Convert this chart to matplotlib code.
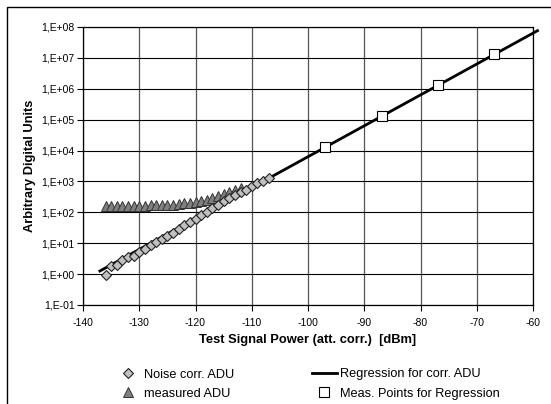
import numpy as np
import matplotlib.pyplot as plt
from matplotlib.patches import Rectangle

# signal power [dBm] for the low-level sweep
power_sweep = [-136, -135, -134, -133, -132, -131, -130, -129, -128, -127,
               -126, -125, -124, -123, -122, -121, -120, -119, -118, -117,
               -116, -115, -114, -113, -112, -111, -110, -109, -108, -107]
noise_corr_adu = [0.95, 1.9, 1.95, 2.8, 3.6, 4.0, 5.2, 6.7, 8.8, 11.3,
                  13.8, 17, 21, 28, 38, 49, 62, 80, 102, 135,
                  173, 225, 290, 360, 440, 540, 690, 890, 1050, 1260]

power_measured = [-136, -135, -134, -133, -132, -131, -130, -129, -128, -127,
                  -126, -125, -124, -123, -122, -121, -120, -119, -118, -117,
                  -116, -115, -114, -113, -112]
measured_adu = [159, 160, 160, 161, 162, 162, 163, 165, 167, 169,
                172, 175, 179, 186, 196, 207, 220, 238, 260, 293,
                331, 383, 448, 518, 598]

# regression line end points
power_regr = [-137, -59.2]
regr_adu = [1.26, 7.6e7]

# measurement points used for the regression
power_points = [-96.9, -86.9, -76.9, -66.9]
points_adu = [1.3e4, 1.3e5, 1.3e6, 1.3e7]

x_ticks = [-140, -130, -120, -110, -100, -90, -80, -70, -60]
y_ticks = [1e-1, 1e0, 1e1, 1e2, 1e3, 1e4, 1e5, 1e6, 1e7, 1e8]
y_labels = ["1,E-01", "1,E+00", "1,E+01", "1,E+02", "1,E+03",
            "1,E+04", "1,E+05", "1,E+06", "1,E+07", "1,E+08"]

plt.rcParams['font.family'] = ['Liberation Sans', 'DejaVu Sans']

W, H = 551, 404
fig = plt.figure(figsize=(W / 100, H / 100), dpi=100)
ax = fig.add_axes([83 / W, 1 - 305 / H, 450 / W, 278 / H])

# outer chart border (runs off the right / bottom of the picture)
fig.add_artist(Rectangle((7 / W, -0.1), 1.2, 1 - 7 / H + 0.1, transform=fig.transFigure,
                         fill=False, edgecolor='black', linewidth=1.0))

ax.set_yscale('log')
ax.set_xlim(-140, -60)
ax.set_ylim(1e-1, 1e8)

ax.plot(power_regr, regr_adu, color='black', linewidth=2.0, clip_on=False, zorder=3,
        label='Regression for corr. ADU')
ax.plot(power_measured, measured_adu, linestyle='none', marker='^', markersize=6.5,
        markerfacecolor='#808080', markeredgecolor='#333333', markeredgewidth=0.7,
        zorder=4, label='measured ADU')
ax.plot(power_sweep, noise_corr_adu, linestyle='none', marker='D', markersize=5.2,
        markerfacecolor='#c0c0c0', markeredgecolor='#222222', markeredgewidth=0.8,
        zorder=5, label='Noise corr. ADU')
ax.plot(power_points, points_adu, linestyle='none', marker='s', markersize=6.5,
        markerfacecolor='white', markeredgecolor='black', markeredgewidth=0.8,
        zorder=6, label='Meas. Points for Regression')

ax.set_xticks(x_ticks)
ax.set_xticklabels([str(v) for v in x_ticks])
ax.set_yticks(y_ticks)
ax.set_yticklabels(y_labels)
ax.yaxis.set_minor_locator(plt.NullLocator())
ax.tick_params(axis='both', direction='out', length=4, width=0.8, labelsize=7.5, pad=2)
ax.tick_params(axis='x', pad=5)

ax.grid(axis='y', color='black', linewidth=0.8)
ax.grid(axis='x', color='#555555', linewidth=0.9)
ax.set_axisbelow(True)
for s in ax.spines.values():
    s.set_linewidth(0.9)

ax.set_xlabel('Test Signal Power (att. corr.)  [dBm]', fontsize=9.3, fontweight='bold', labelpad=5)
ax.set_ylabel('Arbitrary Digital Units', fontsize=9.3, fontweight='bold', labelpad=4)

h, l = ax.get_legend_handles_labels()
order = [2, 1, 0, 3]
leg = fig.legend([h[i] for i in order], [l[i] for i in order], ncol=2,
                 loc='upper left', bbox_to_anchor=(115.5 / W, 1 - 368.5 / H),
                 frameon=False, fontsize=9.2, handlelength=1.95, handletextpad=0.25,
                 columnspacing=6.1, labelspacing=0.55, borderpad=0, borderaxespad=0)

fig.savefig('out.png', dpi=100)
